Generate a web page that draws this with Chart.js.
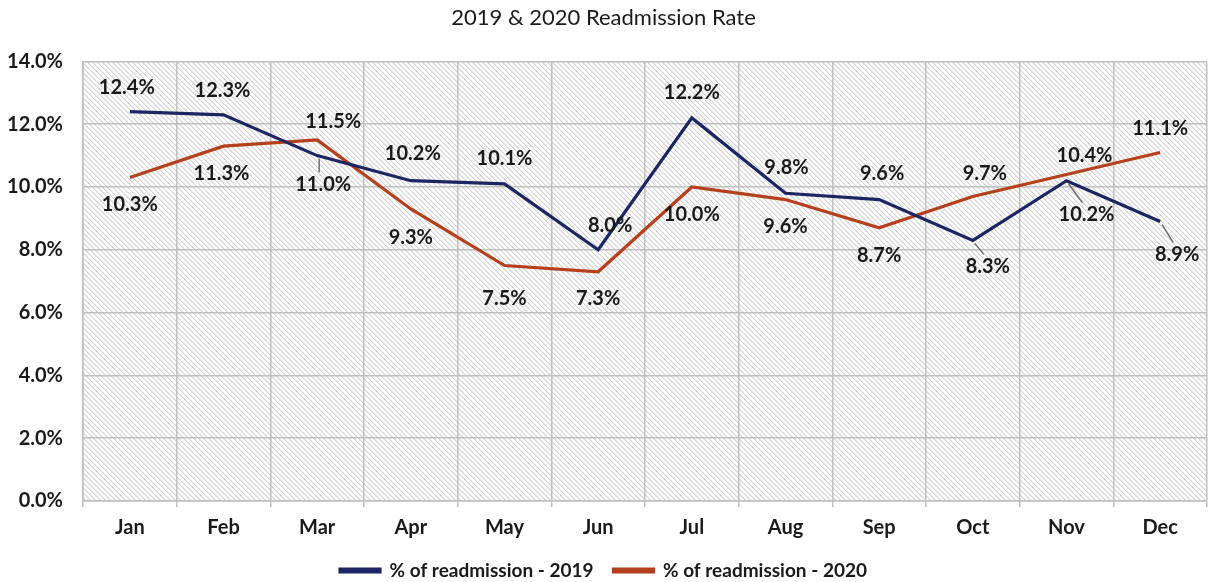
<!DOCTYPE html>
<html>
<head>
<meta charset="utf-8">
<script src="https://cdn.jsdelivr.net/npm/chart.js@4/dist/chart.umd.min.js"></script>
<style>
  html, body { margin: 0; padding: 0; background: #fff; }
  #wrap { width: 1213px; height: 582px; }
</style>
</head>
<body>
<div id="wrap"><canvas id="readmitChart"></canvas></div>
<script>
const months = ["Jan", "Feb", "Mar", "Apr", "May", "Jun", "Jul", "Aug", "Sep", "Oct", "Nov", "Dec"];
const rate2019 = [12.4, 12.3, 11.0, 10.2, 10.1, 8.0, 12.2, 9.8, 9.6, 8.3, 10.2, 8.9];
const rate2020 = [10.3, 11.3, 11.5, 9.3, 7.5, 7.3, 10.0, 9.6, 8.7, 9.7, 10.4, 11.1];
const yTicks = [0, 2, 4, 6, 8, 10, 12, 14];

// where each value label sits relative to its point (pixels) + whether it gets a leader line
const labelNudge2019 = [[-3,-24],[-1,-24],[6,29],[2,-27],[0,-25],[12,-24],[0,-25],[1,-26],[3,-26],[15,26],[20,34],[17,33]];
const labelNudge2020 = [[0,27],[-2,27],[16,-18],[0,29],[0,33],[0,27],[0,28],[0,27],[0,28],[12,-23],[18,-19],[0,-24]];
const leader2019 = [false,false,true,false,false,false,false,false,false,true,true,true];

const NAVY = '#1d2563';
const RUST = '#b4401d';

function makeHatch() {
    const n = 5;
    const c = document.createElement('canvas');
    c.width = n; c.height = n;
    const g = c.getContext('2d');
    g.fillStyle = '#fdfdfd';
    g.fillRect(0, 0, n, n);
    for (let i = 0; i < n; i++) {
        g.fillStyle = '#d3d3d3';
        g.fillRect(i, i, 1, 1);
        g.fillStyle = '#ebebeb';
        g.fillRect((i + 1) % n, i, 1, 1);
    }
    return g.createPattern(c, 'repeat');
}

// hatched plot background
const hatchBg = {
    id: 'hatchBg',
    beforeDraw(chart) {
        const a = chart.chartArea;
        const ctx = chart.ctx;
        ctx.save();
        ctx.fillStyle = makeHatch();
        ctx.fillRect(a.left, a.top, a.right - a.left, a.bottom - a.top);
        ctx.restore();
    }
};

// value labels
const valueLabels = {
    id: 'valueLabels',
    afterDatasetsDraw(chart) {
        const ctx = chart.ctx;
        ctx.save();
        ctx.font = 'bold 20px Lato';
        ctx.textAlign = 'center';
        ctx.textBaseline = 'middle';
        chart.data.datasets.forEach((ds, di) => {
            const meta = chart.getDatasetMeta(di);
            const nudges = di === 0 ? labelNudge2019 : labelNudge2020;
            meta.data.forEach((pt, i) => {
                const [dx, dy] = nudges[i];
                const lx = pt.x + dx, ly = pt.y + dy;
                if (di === 0 && leader2019[i]) {
                    ctx.strokeStyle = '#6f6f6f';
                    ctx.lineWidth = 1.5;
                    ctx.beginPath();
                    ctx.moveTo(pt.x + 2, pt.y + 3);
                    ctx.lineTo(lx - 4, ly - 12);
                    ctx.stroke();
                }
                ctx.fillStyle = '#1a1a1a';
                ctx.fillText(ds.data[i].toFixed(1) + '%', lx, ly);
            });
        });
        ctx.restore();
    }
};

new Chart(document.getElementById('readmitChart'), {
    type: 'line',
    data: {
        labels: months,
        datasets: [
            {
                label: '% of readmission - 2019',
                data: rate2019,
                borderColor: NAVY,
                backgroundColor: NAVY,
                borderWidth: 3.2,
                pointRadius: 0,
                tension: 0
            },
            {
                label: '% of readmission - 2020',
                data: rate2020,
                borderColor: RUST,
                backgroundColor: RUST,
                borderWidth: 3.2,
                pointRadius: 0,
                tension: 0
            }
        ]
    },
    options: {
        responsive: true,
        maintainAspectRatio: false,
        animation: false,
        layout: { padding: { top: 0, right: 6, bottom: -8, left: 0 } },
        plugins: {
            title: {
                display: true,
                text: '2019 & 2020 Readmission Rate',
                color: '#1a1a1a',
                font: { family: 'Lato', size: 22, weight: 'normal' },
                padding: { top: 5, bottom: 30 }
            },
            legend: {
                position: 'bottom',
                labels: {
                    color: '#1a1a1a',
                    font: { family: 'Lato', size: 19, weight: 'bold' },
                    boxWidth: 40,
                    boxHeight: 3,
                    padding: 20
                }
            },
            tooltip: { enabled: false }
        },
        scales: {
            x: {
                offset: true,
                afterFit(scale) { scale.height = 40; },
                grid: { color: '#c0c0c0', lineWidth: 1.5, offset: true, tickLength: 6 },
                border: { color: '#c0c0c0', width: 1.5 },
                ticks: {
                    color: '#1a1a1a',
                    font: { family: 'Lato', size: 20, weight: 'bold' },
                    padding: 9
                }
            },
            y: {
                min: 0,
                max: 14,
                afterBuildTicks(scale) {
                    scale.ticks = yTicks.map(v => ({ value: v }));
                },
                afterFit(scale) { scale.width = 83; },
                grid: { color: '#c0c0c0', lineWidth: 1.5, drawTicks: false },
                border: { color: '#c0c0c0', width: 1.5 },
                ticks: {
                    color: '#1a1a1a',
                    font: { family: 'Lato', size: 20, weight: 'bold' },
                    padding: 20,
                    callback: v => v.toFixed(1) + '%'
                }
            }
        }
    },
    plugins: [hatchBg, valueLabels]
});
</script>
</body>
</html>
